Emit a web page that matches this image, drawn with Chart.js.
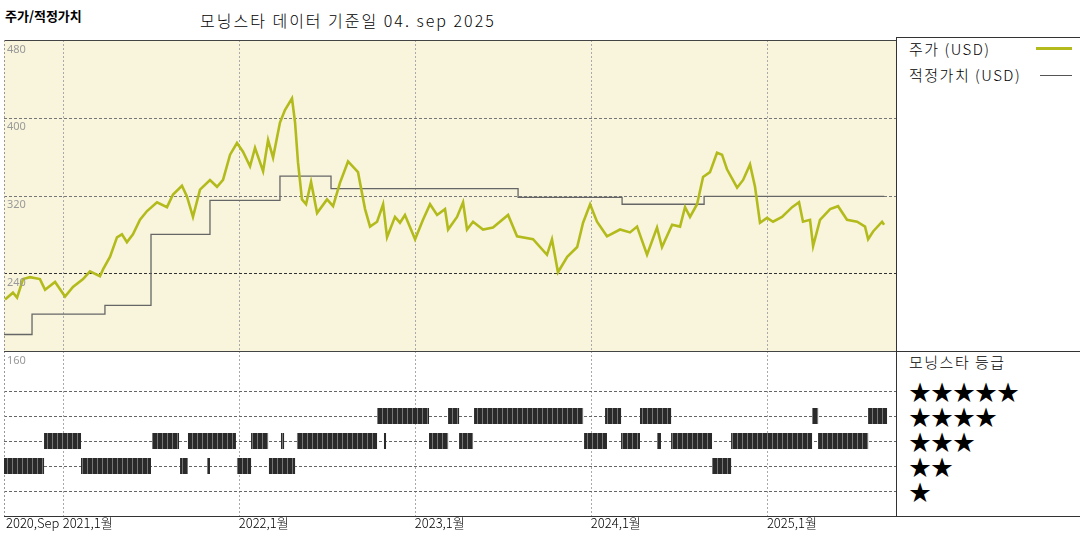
<!DOCTYPE html>
<html><head><meta charset="utf-8">
<script src="https://cdn.jsdelivr.net/npm/chart.js@4"></script>
<style>
body{margin:0;width:1080px;height:540px;background:#fff;position:relative;overflow:hidden;font-family:"Noto Sans CJK KR","Noto Sans",sans-serif}
canvas{position:absolute}
.t{position:absolute;white-space:nowrap;color:#000}
.ln{position:absolute;background:#333}
</style></head><body>
<div class="t" style="left:5px;top:6px;font-size:13px;font-weight:bold">주가/적정가치</div>
<div class="t" style="left:200px;top:8px;font-size:16px;font-weight:300;letter-spacing:2px">모닝스타 데이터 기준일 04. sep 2025</div>
<div class="t" style="left:909px;top:38px;font-size:15px;font-weight:300;letter-spacing:1.5px">주가 (USD)</div>
<div class="t" style="left:909px;top:64px;font-size:15px;font-weight:300;letter-spacing:1.5px">적정가치 (USD)</div>
<div style="position:absolute;left:1036px;top:47px;width:36px;height:3px;background:#b3bb1c"></div>
<div style="position:absolute;left:1040px;top:75px;width:32px;height:1px;background:#555"></div>
<div class="t" style="left:909px;top:351px;font-size:15px;font-weight:300;letter-spacing:1.5px">모닝스타 등급</div>
<div class="t" style="left:909px;top:378px;font-size:22px;line-height:25px">★★★★★<br>★★★★<br>★★★<br>★★<br>★</div>
<div class="ln" style="left:896px;top:37px;width:184px;height:1px"></div>
<div class="ln" style="left:896px;top:37px;width:1px;height:480px"></div>
<div class="ln" style="left:896px;top:351px;width:184px;height:1px"></div>
<div class="ln" style="left:4px;top:516px;width:1076px;height:1px"></div>
<canvas id="c2" width="896" height="195" style="left:0;top:345px"></canvas>
<canvas id="c1" width="896" height="345" style="left:0;top:30px"></canvas>
<script>
// x values are months since 2020-09
const priceMonths=[0.07,0.61,0.89,1.3,1.77,2.45,2.8,3.48,4.16,4.7,5.39,5.86,6.54,6.75,7.23,7.7,8.04,8.38,8.79,9.27,9.75,10.43,11.11,11.52,12.13,12.47,12.88,13.36,14.04,14.52,14.93,15.41,15.88,16.29,16.77,17.11,17.66,18,18.34,18.81,19.15,19.63,19.84,20.04,20.31,20.59,20.93,21.34,22.02,22.43,22.9,23.45,24.13,24.61,24.95,25.43,25.84,26.11,26.65,26.99,27.33,28.02,28.56,29.04,29.52,30.06,30.27,30.88,31.29,31.56,31.97,32.65,33.33,34.36,34.97,36.06,37.01,37.35,37.76,38.39,39.07,39.47,39.95,40.42,41.1,41.99,42.67,43.15,43.83,44.51,44.85,45.54,46.08,46.42,46.76,47.24,47.65,48.12,48.6,48.94,49.28,49.97,50.38,50.85,51.19,51.53,52.01,52.42,53.03,53.72,54.19,54.46,54.94,55.15,55.62,56.31,56.85,57.46,58.15,58.69,58.9,59.24,59.85,59.99];
const priceValues=[213,220,215,234,236,234,223,231,216,226,234,242,237,244,257,277,280,272,280,295,304,313,308,321,330,319,298,326,336,329,336,362,374,365,350,369,345,377,359,395,408,420,395,354,316,311,334,302,316,309,333,355,344,306,288,293,311,277,298,292,300,275,295,311,300,306,285,298,313,285,293,285,287,300,278,275,259,275,241,257,267,292,311,293,278,285,282,288,259,287,267,290,288,308,298,311,339,344,364,362,347,328,336,352,329,292,297,293,298,308,313,293,295,268,295,306,309,295,293,288,275,283,293,290];
const fairStartMonths=[0,1.91,6.88,10.02,14.04,18.81,22.29,35.04,42.13,47.72];
const fairValues=[177,198,207,280,315,340,327,318,311,319];
const fairEndMonth=60;
const rating4=[[25.43,28.97],[30.27,31.02],[32.04,39.47],[40.97,42.06],[43.35,45.47],[55.08,55.49],[58.9,60.19]];
const rating3=[[2.73,5.25],[10.09,11.93],[12.54,15.81],[16.84,18.0],[18.88,19.09],[19.97,25.43],[25.9,26.04],[28.97,30.27],[31.02,31.97],[39.54,41.1],[42.06,43.35],[44.51,44.78],[45.47,48.26],[49.56,55.08],[55.49,58.9]];
const rating2=[[0,2.73],[5.25,10.02],[12.0,12.54],[13.84,14.04],[15.88,16.84],[18.06,19.84],[48.26,49.56]];
const yTicks=[480,400,320,240,160];
const xTickMonths=[0,4,16,28,40,52];
const xTickLabels=['2020,Sep','2021,1월','2022,1월','2023,1월','2024,1월','2025,1월'];
const X_MAX=60.8;

const fairPts=[];
fairStartMonths.forEach((m,i)=>{const end=i+1<fairStartMonths.length?fairStartMonths[i+1]:fairEndMonth;fairPts.push({x:m,y:fairValues[i]},{x:end,y:fairValues[i]});});
const pricePts=priceMonths.map((m,i)=>({x:m,y:priceValues[i]}));

function vGrid(ctx,ca,xs){ctx.save();ctx.strokeStyle='#aaa';ctx.lineWidth=1;ctx.setLineDash([2,2]);
 xTickMonths.forEach(m=>{const px=Math.round(xs.getPixelForValue(m))+0.5;ctx.beginPath();ctx.moveTo(px,ca.top);ctx.lineTo(px,ca.bottom);ctx.stroke();});ctx.restore();}

const topPlugin={id:'tp',
 beforeDatasetsDraw(ch){const {ctx,chartArea:ca,scales:{x,y}}=ch;
  ctx.save();ctx.fillStyle='#f9f5dc';ctx.fillRect(ca.left,ca.top,ca.right-ca.left,ca.bottom-ca.top);
  vGrid(ctx,ca,x);
  ctx.setLineDash([3,2]);
  [400,320,240].forEach(v=>{const py=Math.round(y.getPixelForValue(v))+0.5;ctx.strokeStyle=v===240?'#333':'#777';ctx.beginPath();ctx.moveTo(ca.left,py);ctx.lineTo(ca.right,py);ctx.stroke();});
  ctx.restore();},
 afterDraw(ch){const {ctx,chartArea:ca,scales:{x,y}}=ch;ctx.save();
  ctx.fillStyle='#999';ctx.font='11px "Noto Sans",sans-serif';ctx.textBaseline='top';
  yTicks.forEach(v=>ctx.fillText(String(v),ca.left+3,y.getPixelForValue(v)+4));
  ctx.strokeStyle='#444';ctx.lineWidth=1;ctx.beginPath();ctx.moveTo(ca.left,ca.top+0.5);ctx.lineTo(ca.right,ca.top+0.5);ctx.moveTo(ca.left,ca.bottom+0.5);ctx.lineTo(ca.right,ca.bottom+0.5);ctx.stroke();
  ctx.setLineDash([2,2]);ctx.strokeStyle='#999';ctx.beginPath();ctx.moveTo(ca.left+0.5,ca.top);ctx.lineTo(ca.left+0.5,ca.bottom);ctx.stroke();
  ctx.restore();}};

new Chart(document.getElementById('c1'),{type:'line',
 data:{datasets:[
  {data:pricePts,borderColor:'#b3bb1c',borderWidth:2.6,pointRadius:0,tension:0},
  {data:fairPts,borderColor:'#666',borderWidth:1.3,pointRadius:0,tension:0}]},
 options:{responsive:false,animation:false,devicePixelRatio:1,
  layout:{padding:{left:4,right:0,top:10,bottom:24}},
  plugins:{legend:{display:false},tooltip:{enabled:false}},
  scales:{x:{type:'linear',min:0,max:X_MAX,display:false},y:{min:160,max:480,display:false}}},
 plugins:[topPlugin]});

const pat=(()=>{const c=document.createElement('canvas');c.width=5;c.height=4;const g=c.getContext('2d');
 g.fillStyle='#2a2a2a';g.fillRect(0,0,5,4);g.fillStyle='#777';g.fillRect(2,0,1,4);
 return document.getElementById('c2').getContext('2d').createPattern(c,'repeat');})();
function segPts(segs,r){const out=[];segs.forEach(s=>{out.push({x:s[0],y:r},{x:s[1],y:r},{x:s[1],y:null});});return out;}

const botPlugin={id:'bp',
 beforeDatasetsDraw(ch){const {ctx,chartArea:ca,scales:{x,y}}=ch;ctx.save();vGrid(ctx,ca,x);
  ctx.setLineDash([3,2]);ctx.strokeStyle='#666';
  [1,2,3,4,5].forEach(v=>{const py=Math.round(y.getPixelForValue(v))+0.5;ctx.beginPath();ctx.moveTo(ca.left,py);ctx.lineTo(ca.right,py);ctx.stroke();});
  ctx.setLineDash([2,2]);ctx.strokeStyle='#999';ctx.beginPath();ctx.moveTo(ca.left+0.5,ca.top);ctx.lineTo(ca.left+0.5,ca.bottom);ctx.stroke();
  ctx.restore();},
 afterDraw(ch){const {ctx,chartArea:ca,scales:{x}}=ch;ctx.save();ctx.fillStyle='#000';ctx.font='300 13px "Noto Sans CJK KR",sans-serif';ctx.textBaseline='top';
  xTickMonths.forEach((m,i)=>ctx.fillText(xTickLabels[i],x.getPixelForValue(m)+(i===0?2:0),ca.bottom+1));ctx.restore();}};

const barStyle={borderColor:pat,borderWidth:16,borderCapStyle:'butt',pointRadius:0,spanGaps:false,tension:0};
new Chart(document.getElementById('c2'),{type:'line',
 data:{datasets:[
  Object.assign({data:segPts(rating4,4)},barStyle),
  Object.assign({data:segPts(rating3,3)},barStyle),
  Object.assign({data:segPts(rating2,2)},barStyle)]},
 options:{responsive:false,animation:false,devicePixelRatio:1,
  layout:{padding:{left:4,right:0,top:6,bottom:24}},
  plugins:{legend:{display:false},tooltip:{enabled:false}},
  scales:{x:{type:'linear',min:0,max:X_MAX,display:false},y:{min:0,max:6.6,display:false}}},
 plugins:[botPlugin]});
</script></body></html>
